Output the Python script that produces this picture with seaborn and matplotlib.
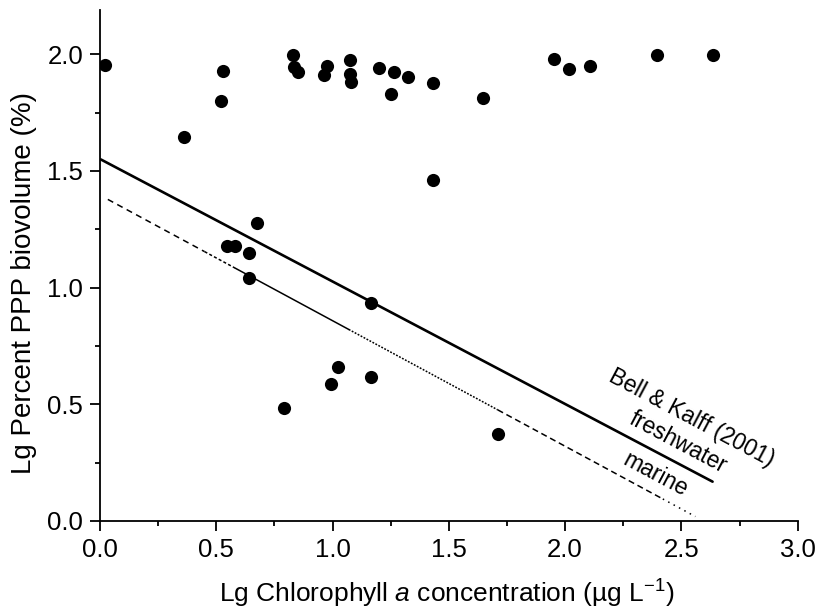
import matplotlib
matplotlib.use("Agg")
import matplotlib.pyplot as plt
import seaborn as sns
import numpy as np
import pandas as pd
from matplotlib.ticker import MultipleLocator

# Lg chlorophyll a vs lg percent PPP biovolume
chl = [0.02, 0.36, 0.53, 0.52, 0.83, 0.835, 0.85, 0.675, 0.545, 0.58, 0.64, 0.64,
       0.975, 0.963, 1.074, 1.074, 1.078, 1.20, 1.263, 1.25, 1.323, 1.43, 1.646,
       1.43, 1.951, 2.016, 2.106, 2.394, 2.634, 1.164, 1.023, 0.993, 1.164, 0.79, 1.71]
ppp = [1.955, 1.645, 1.927, 1.798, 1.996, 1.944, 1.925, 1.275, 1.177, 1.177, 1.146, 1.043,
       1.949, 1.912, 1.974, 1.914, 1.882, 1.940, 1.923, 1.828, 1.901, 1.876, 1.811,
       1.459, 1.978, 1.936, 1.950, 1.996, 1.996, 0.935, 0.661, 0.588, 0.618, 0.485, 0.373]

# Bell & Kalff (2001) regressions
fw_intercept, fw_slope, fw_range = 1.551, -0.525, (0.004, 2.634)
mar_intercept, mar_slope = 1.396, -0.538
# marine line pieces and their dash styles
mar_breaks = [0.034, 0.45, 0.58, 1.07, 1.71, 2.42, 2.56]
mar_styles = [(0, (4, 3)), (0, (2, 1.5)), "-", (0, (1.2, 1)), (0, (4, 2.5)), (0, (1, 3))]

sns.set_style("ticks", {"text.color": "black", "axes.labelcolor": "black",
                        "axes.edgecolor": "black", "xtick.color": "black",
                        "ytick.color": "black"})
plt.rcParams["font.family"] = ["Liberation Sans", "DejaVu Sans"]
plt.rcParams["mathtext.fontset"] = "custom"
plt.rcParams["mathtext.rm"] = "Liberation Sans"
plt.rcParams["mathtext.it"] = "Liberation Sans:italic"

fig = plt.figure(figsize=(8.19, 6.15), dpi=100)
ax = fig.add_axes([0.122, 0.153, 0.852, 0.831])

df = pd.DataFrame({"chl": chl, "ppp": ppp})
sns.scatterplot(data=df, x="chl", y="ppp", color="black", s=90, edgecolor="black",
                linewidth=0, ax=ax, zorder=3)

xf = np.array(fw_range)
ax.plot(xf, fw_intercept + fw_slope * xf, color="black", lw=1.9)
for i, ls in enumerate(mar_styles):
    xm = np.array([mar_breaks[i], mar_breaks[i + 1]])
    ax.plot(xm, mar_intercept + mar_slope * xm, color="black", lw=1.1, linestyle=ls)

ax.text(2.544, 0.442, "Bell & Kalff (2001)", rotation=-28, rotation_mode="anchor",
        ha="center", va="center", fontsize=16.5)
ax.text(2.484, 0.335, "freshwater", rotation=-28, rotation_mode="anchor",
        ha="center", va="center", fontsize=16.5)
ax.text(2.39, 0.20, "marine", rotation=-28, rotation_mode="anchor",
        ha="center", va="center", fontsize=16.5)

ax.set_xlim(0, 3.0)
ax.set_ylim(0, 2.19)
ax.xaxis.set_major_locator(MultipleLocator(0.5))
ax.xaxis.set_minor_locator(MultipleLocator(0.25))
ax.yaxis.set_major_locator(MultipleLocator(0.5))
ax.yaxis.set_minor_locator(MultipleLocator(0.25))
ax.xaxis.set_major_formatter(lambda v, p: f"{v:.1f}")
ax.yaxis.set_major_formatter(lambda v, p: f"{v:.1f}")
ax.tick_params(which="major", length=7, width=1.3, labelsize=18.5, pad=5, direction="out")
ax.tick_params(which="minor", length=3.6, width=1.3, direction="out")
for s in ["left", "bottom"]:
    ax.spines[s].set_linewidth(1.3)
sns.despine(ax=ax)

ax.set_xlabel(r"Lg Chlorophyll $\it{a}$ concentration (µg L$^{\mathregular{-1}}$)", fontsize=19)
ax.set_ylabel("Lg Percent PPP biovolume (%)", fontsize=20)
ax.xaxis.set_label_coords(0.497, -0.112)
ax.yaxis.set_label_coords(-0.09, 0.466)

fig.savefig("out.png", dpi=100)
